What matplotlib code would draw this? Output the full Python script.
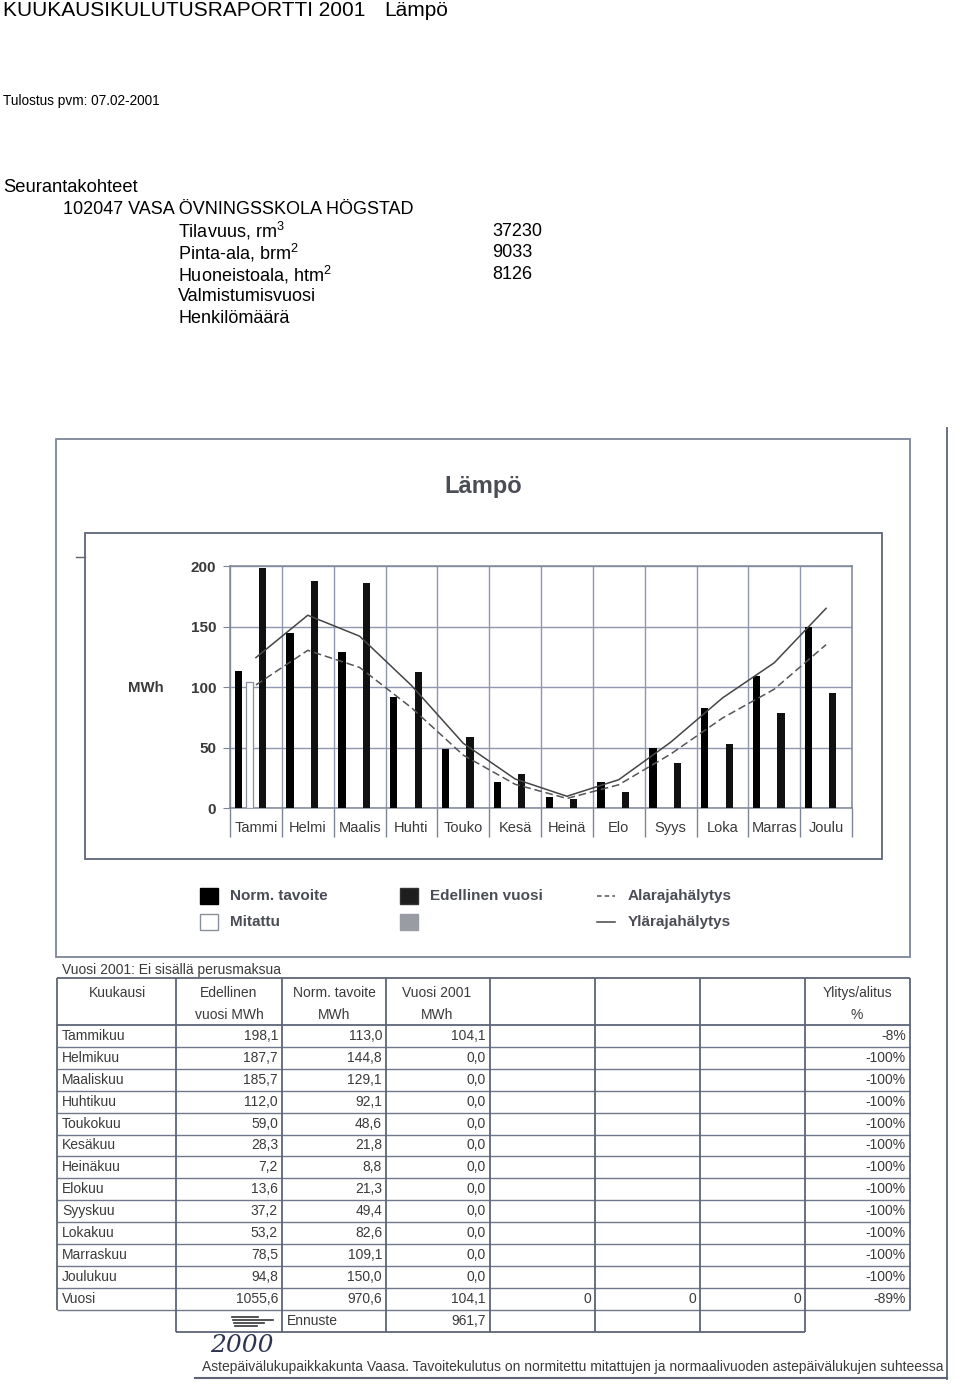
import matplotlib.pyplot as plt
import numpy as np
from matplotlib.patches import Rectangle

plt.rcParams['font.family'] = ['Liberation Sans', 'DejaVu Sans']
plt.rcParams['mathtext.fontset'] = 'custom'
plt.rcParams['mathtext.rm'] = 'Liberation Sans'
plt.rcParams['mathtext.default'] = 'regular'

# --- data ---
months_short = ['Tammi', 'Helmi', 'Maalis', 'Huhti', 'Touko', 'Kesä',
                'Heinä', 'Elo', 'Syys', 'Loka', 'Marras', 'Joulu']
months_long = ['Tammikuu', 'Helmikuu', 'Maaliskuu', 'Huhtikuu', 'Toukokuu', 'Kesäkuu',
               'Heinäkuu', 'Elokuu', 'Syyskuu', 'Lokakuu', 'Marraskuu', 'Joulukuu']
edellinen = [198.1, 187.7, 185.7, 112.0, 59.0, 28.3, 7.2, 13.6, 37.2, 53.2, 78.5, 94.8]
norm_tavoite = [113.0, 144.8, 129.1, 92.1, 48.6, 21.8, 8.8, 21.3, 49.4, 82.6, 109.1, 150.0]
mitattu = [104.1, 0.0, 0.0, 0.0, 0.0, 0.0, 0.0, 0.0, 0.0, 0.0, 0.0, 0.0]
ylitys = ['-8%'] + ['-100%'] * 11
ylaraja = [124.3, 159.3, 142.0, 101.3, 53.5, 24.0, 9.7, 23.4, 54.3, 90.9, 120.0, 165.0]
alaraja = [101.7, 130.3, 116.2, 82.9, 43.7, 19.6, 7.9, 19.2, 44.5, 74.3, 98.2, 135.0]
vuosi_total = [1055.6, 970.6, 104.1]
vuosi_extra = ['0', '0', '0', '-89%']
ennuste = 961.7

kohde_labels = [r'Tilavuus, rm$^3$', r'Pinta-ala, brm$^2$', r'Huoneistoala, htm$^2$',
                'Valmistumisvuosi', 'Henkilömäärä']
kohde_values = ['37230', '9033', '8126', '', '']

LINE = '#7d8597'
TXT = '#3a3a3a'


def fi(v):
    return f'{v:.1f}'.replace('.', ',')


fig = plt.figure(figsize=(9.6, 13.93), dpi=100)
pg = fig.add_axes([0, 0, 1, 1])
pg.set_xlim(0, 960)
pg.set_ylim(1393, 0)
pg.axis('off')

# --- page header ---
pg.text(3, 10, 'KUUKAUSIKULUTUSRAPORTTI 2001', fontsize=15, va='center')
pg.text(384, 10, 'Lämpö', fontsize=15, va='center')
pg.text(3, 101, 'Tulostus pvm: 07.02-2001', fontsize=9.8, va='center')
pg.text(3, 187, 'Seurantakohteet', fontsize=13.2, va='center')
pg.text(63, 209, '102047 VASA ÖVNINGSSKOLA HÖGSTAD', fontsize=13, va='center')
for i, (lab, val) in enumerate(zip(kohde_labels, kohde_values)):
    y = 231 + i * 21.8
    pg.text(178, y, lab, fontsize=13, va='center')
    pg.text(492, y, val, fontsize=13, va='center')

# --- chart frames ---
pg.add_patch(Rectangle((56, 439), 854, 518, fill=False, ec=LINE, lw=1.3))
pg.add_patch(Rectangle((85, 533), 797, 326, fill=False, ec='#5d6477', lw=1.3))
pg.plot([76, 85], [557, 557], color='#5d6477', lw=1)
pg.plot([947, 947], [428, 1379], color='#5d6477', lw=1.3)
pg.plot([195, 947], [1378, 1378], color='#5d6477', lw=1.5)
pg.text(483, 487, 'Lämpö', fontsize=17, weight='bold', color='#4a4d55',
        ha='center', va='center')
pg.text(146, 688, 'MWh', fontsize=10.8, weight='bold', color=TXT,
        ha='center', va='center')

# --- chart ---
ax = fig.add_axes([230 / 960, 1 - 808 / 1393, 622 / 960, 242 / 1393])
ax.set_facecolor('none')
x = np.arange(len(months_short))
ax.bar(x - 0.34, norm_tavoite, width=0.14, color='black', zorder=3)
ax.bar(x - 0.12, mitattu, width=0.13, facecolor='white', edgecolor='#8a8f9c',
       lw=0.9, zorder=3)
ax.bar(x + 0.13, edellinen, width=0.14, color='#111111', zorder=3)
ax.plot(x, ylaraja, color='#454545', lw=1.1, zorder=4)
ax.plot(x, alaraja, color='#555555', lw=1.1, dashes=(5, 2.5), zorder=4)
ax.set_xlim(-0.5, 11.5)
ax.set_ylim(0, 200)
ax.set_yticks([0, 50, 100, 150, 200])
ax.set_xticks(np.arange(-0.5, 12, 1))
ax.set_xticklabels([])
ax.set_xticks(x, minor=True)
ax.set_xticklabels(months_short, minor=True, fontsize=10.5, color=TXT)
ax.tick_params(axis='x', which='major', length=21, direction='out', color=LINE, width=1)
ax.tick_params(axis='x', which='minor', length=0, pad=9)
ax.tick_params(axis='y', length=5, pad=5, color=LINE, labelsize=11,
               labelcolor=TXT)
for t in ax.get_yticklabels():
    t.set_fontweight('bold')
ax.grid(True, which='major', color='#8f98ae', lw=1, zorder=0)
for s in ax.spines.values():
    s.set_color(LINE)
    s.set_linewidth(1.1)

# --- legend ---
pg.add_patch(Rectangle((200, 888), 18, 16, fc='black', ec='black'))
pg.add_patch(Rectangle((200, 914), 18, 16, fc='white', ec='#8a8f9c', lw=1))
pg.add_patch(Rectangle((400, 888), 18, 16, fc='#1e1e1e', ec='#333'))
pg.add_patch(Rectangle((400, 914), 18, 16, fc='#9a9ca4', ec='#9a9ca4'))
pg.plot([597, 615], [896, 896], color='#555', lw=1.1, dashes=(3, 2))
pg.plot([597, 615], [922, 922], color='#454545', lw=1.1)
leg_font = dict(fontsize=11, weight='bold', color='#4a4d55', va='center')
pg.text(230, 896, 'Norm. tavoite', **leg_font)
pg.text(230, 922, 'Mitattu', **leg_font)
pg.text(430, 896, 'Edellinen vuosi', **leg_font)
pg.text(628, 896, 'Alarajahälytys', **leg_font)
pg.text(628, 922, 'Ylärajahälytys', **leg_font)

# --- table ---
cols = [57, 176, 282, 386, 490, 595, 700, 805, 910]
top, head_h, row_h = 978, 47, 21.9
n_rows = len(months_long) + 1
tab_font = dict(fontsize=10, color=TXT, va='center')
pg.text(62, 970, 'Vuosi 2001: Ei sisällä perusmaksua', **tab_font)

body_top = top + head_h
body_bot = body_top + n_rows * row_h
ennuste_bot = body_bot + row_h
pg.hlines([top, body_top], cols[0], cols[-1], color='#5d6477', lw=1.3)
pg.hlines(body_top + row_h * np.arange(1, n_rows + 1), cols[0], cols[-1],
          color='#6f778a', lw=1)
pg.hlines(ennuste_bot, cols[1], cols[7], color='#5d6477', lw=1.3)
pg.vlines([cols[0], cols[-1]], top, body_bot, color='#5d6477', lw=1.3)
pg.vlines(cols[1:8], top, ennuste_bot, color='#5d6477', lw=1.3)

hy1, hy2 = top + 15, top + 37
pg.text(117, hy1, 'Kuukausi', ha='center', **tab_font)
pg.text(229, hy1, 'Edellinen', ha='center', **tab_font)
pg.text(229, hy2, 'vuosi MWh', ha='center', **tab_font)
pg.text(334, hy1, 'Norm. tavoite', ha='center', **tab_font)
pg.text(334, hy2, 'MWh', ha='center', **tab_font)
pg.text(437, hy1, 'Vuosi 2001', ha='center', **tab_font)
pg.text(437, hy2, 'MWh', ha='center', **tab_font)
pg.text(857, hy1, 'Ylitys/alitus', ha='center', **tab_font)
pg.text(857, hy2, '%', ha='center', **tab_font)

for i, name in enumerate(months_long):
    y = body_top + row_h * (i + 0.5)
    pg.text(62, y, name, **tab_font)
    pg.text(cols[2] - 4, y, fi(edellinen[i]), ha='right', **tab_font)
    pg.text(cols[3] - 4, y, fi(norm_tavoite[i]), ha='right', **tab_font)
    pg.text(cols[4] - 4, y, fi(mitattu[i]), ha='right', **tab_font)
    pg.text(cols[8] - 4, y, ylitys[i], ha='right', **tab_font)

y = body_top + row_h * (n_rows - 0.5)
pg.text(62, y, 'Vuosi', **tab_font)
for j, v in enumerate(vuosi_total):
    pg.text(cols[j + 2] - 4, y, fi(v), ha='right', **tab_font)
for j, s in enumerate(vuosi_extra):
    pg.text(cols[j + 5] - 4, y, s, ha='right', **tab_font)

y = body_bot + row_h / 2
for k, (w, dy) in enumerate([(26, -4), (40, -1), (30, 2), (22, 5)]):
    pg.plot([232 + k, 232 + k + w], [y + dy, y + dy], color='#333', lw=1.2)
pg.text(287, y, 'Ennuste', **tab_font)
pg.text(cols[4] - 4, y, fi(ennuste), ha='right', **tab_font)

# --- footer ---
pg.text(210, 1346, '2000', fontsize=18, style='italic', family='DejaVu Serif',
        color='#2e3550', va='center')
pg.text(202, 1367, 'Astepäivälukupaikkakunta Vaasa. Tavoitekulutus on normitettu '
        'mitattujen ja normaalivuoden astepäivälukujen suhteessa',
        fontsize=10, color=TXT, va='center')

fig.savefig('out.png', dpi=100)
